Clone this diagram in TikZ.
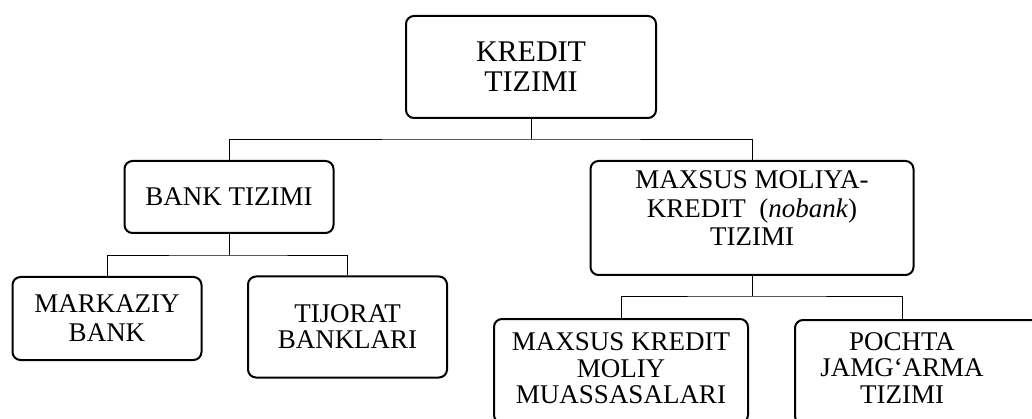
\documentclass[tikz,border=0pt]{standalone}
\usepackage{fontspec}
\setmainfont{Liberation Serif}
\usetikzlibrary{positioning}

\tikzset{
  blok/.style={draw, line width=2pt, rounded corners=8pt, align=center, inner sep=2pt,
    font=\fontsize{27}{28.5}\selectfont},
  matn/.style={align=center, inner sep=0pt, font=\fontsize{27}{26.5}\selectfont},
  chiziq/.style={line width=0.9pt}
}

\begin{document}
\begin{tikzpicture}[x=1pt, y=-1pt]
    \useasboundingbox (0,0) rectangle (1032,419);

    % yuqori
    \node[blok, minimum width=250pt, minimum height=102pt, font=\fontsize{30}{30}\selectfont] (kredit) at (531,67) {KREDIT\\TIZIMI};

    % ikkinchi qator
    \node[blok, minimum width=209pt, minimum height=72pt] (bank) at (229,197) {BANK TIZIMI};
    \node[blok, minimum width=323pt, minimum height=114pt, text depth=19pt] (nobank) at (752,218) {MAXSUS MOLIYA-\\KREDIT\ \ (\textit{nobank})\\TIZIMI};

    % uchinchi qator
    \node[blok, minimum width=189pt, minimum height=83pt, font=\fontsize{27}{29}\selectfont] (markaziy) at (107,318.5) {MARKAZIY\\BANK};
    \node[blok, minimum width=199pt, minimum height=101pt, font=\fontsize{27}{26}\selectfont] (tijorat) at (347.5,327) {TIJORAT\\BANKLARI};
    \node[blok, minimum width=254pt, minimum height=104pt, text depth=5pt, font=\fontsize{27}{26.5}\selectfont] (muassasa) at (621,371) {MAXSUS KREDIT\\MOLIY\\MUASSASALARI};
    \node[blok, minimum width=250pt, minimum height=104pt, anchor=north west] (pochta) at (794,319) {};
    \node[matn] (pochtamatn) at (902,368) {POCHTA\\JAMG‘ARMA\\TIZIMI};

    % chiziqlar
    \coordinate (t1) at (531,139);
    \coordinate (t2) at (229,255);
    \coordinate (t3) at (752,296);
    \coordinate (p1) at (902,319);
    \draw[chiziq] (kredit) -- (t1);
    \draw[chiziq] (bank.north) |- (t1) -| (nobank.north);
    \draw[chiziq] (bank) -- (t2);
    \draw[chiziq] (markaziy.north) |- (t2) -| (tijorat.north);
    \draw[chiziq] (nobank) -- (t3);
    \draw[chiziq] (muassasa.north) |- (t3) -| (p1);
\end{tikzpicture}
\end{document}
